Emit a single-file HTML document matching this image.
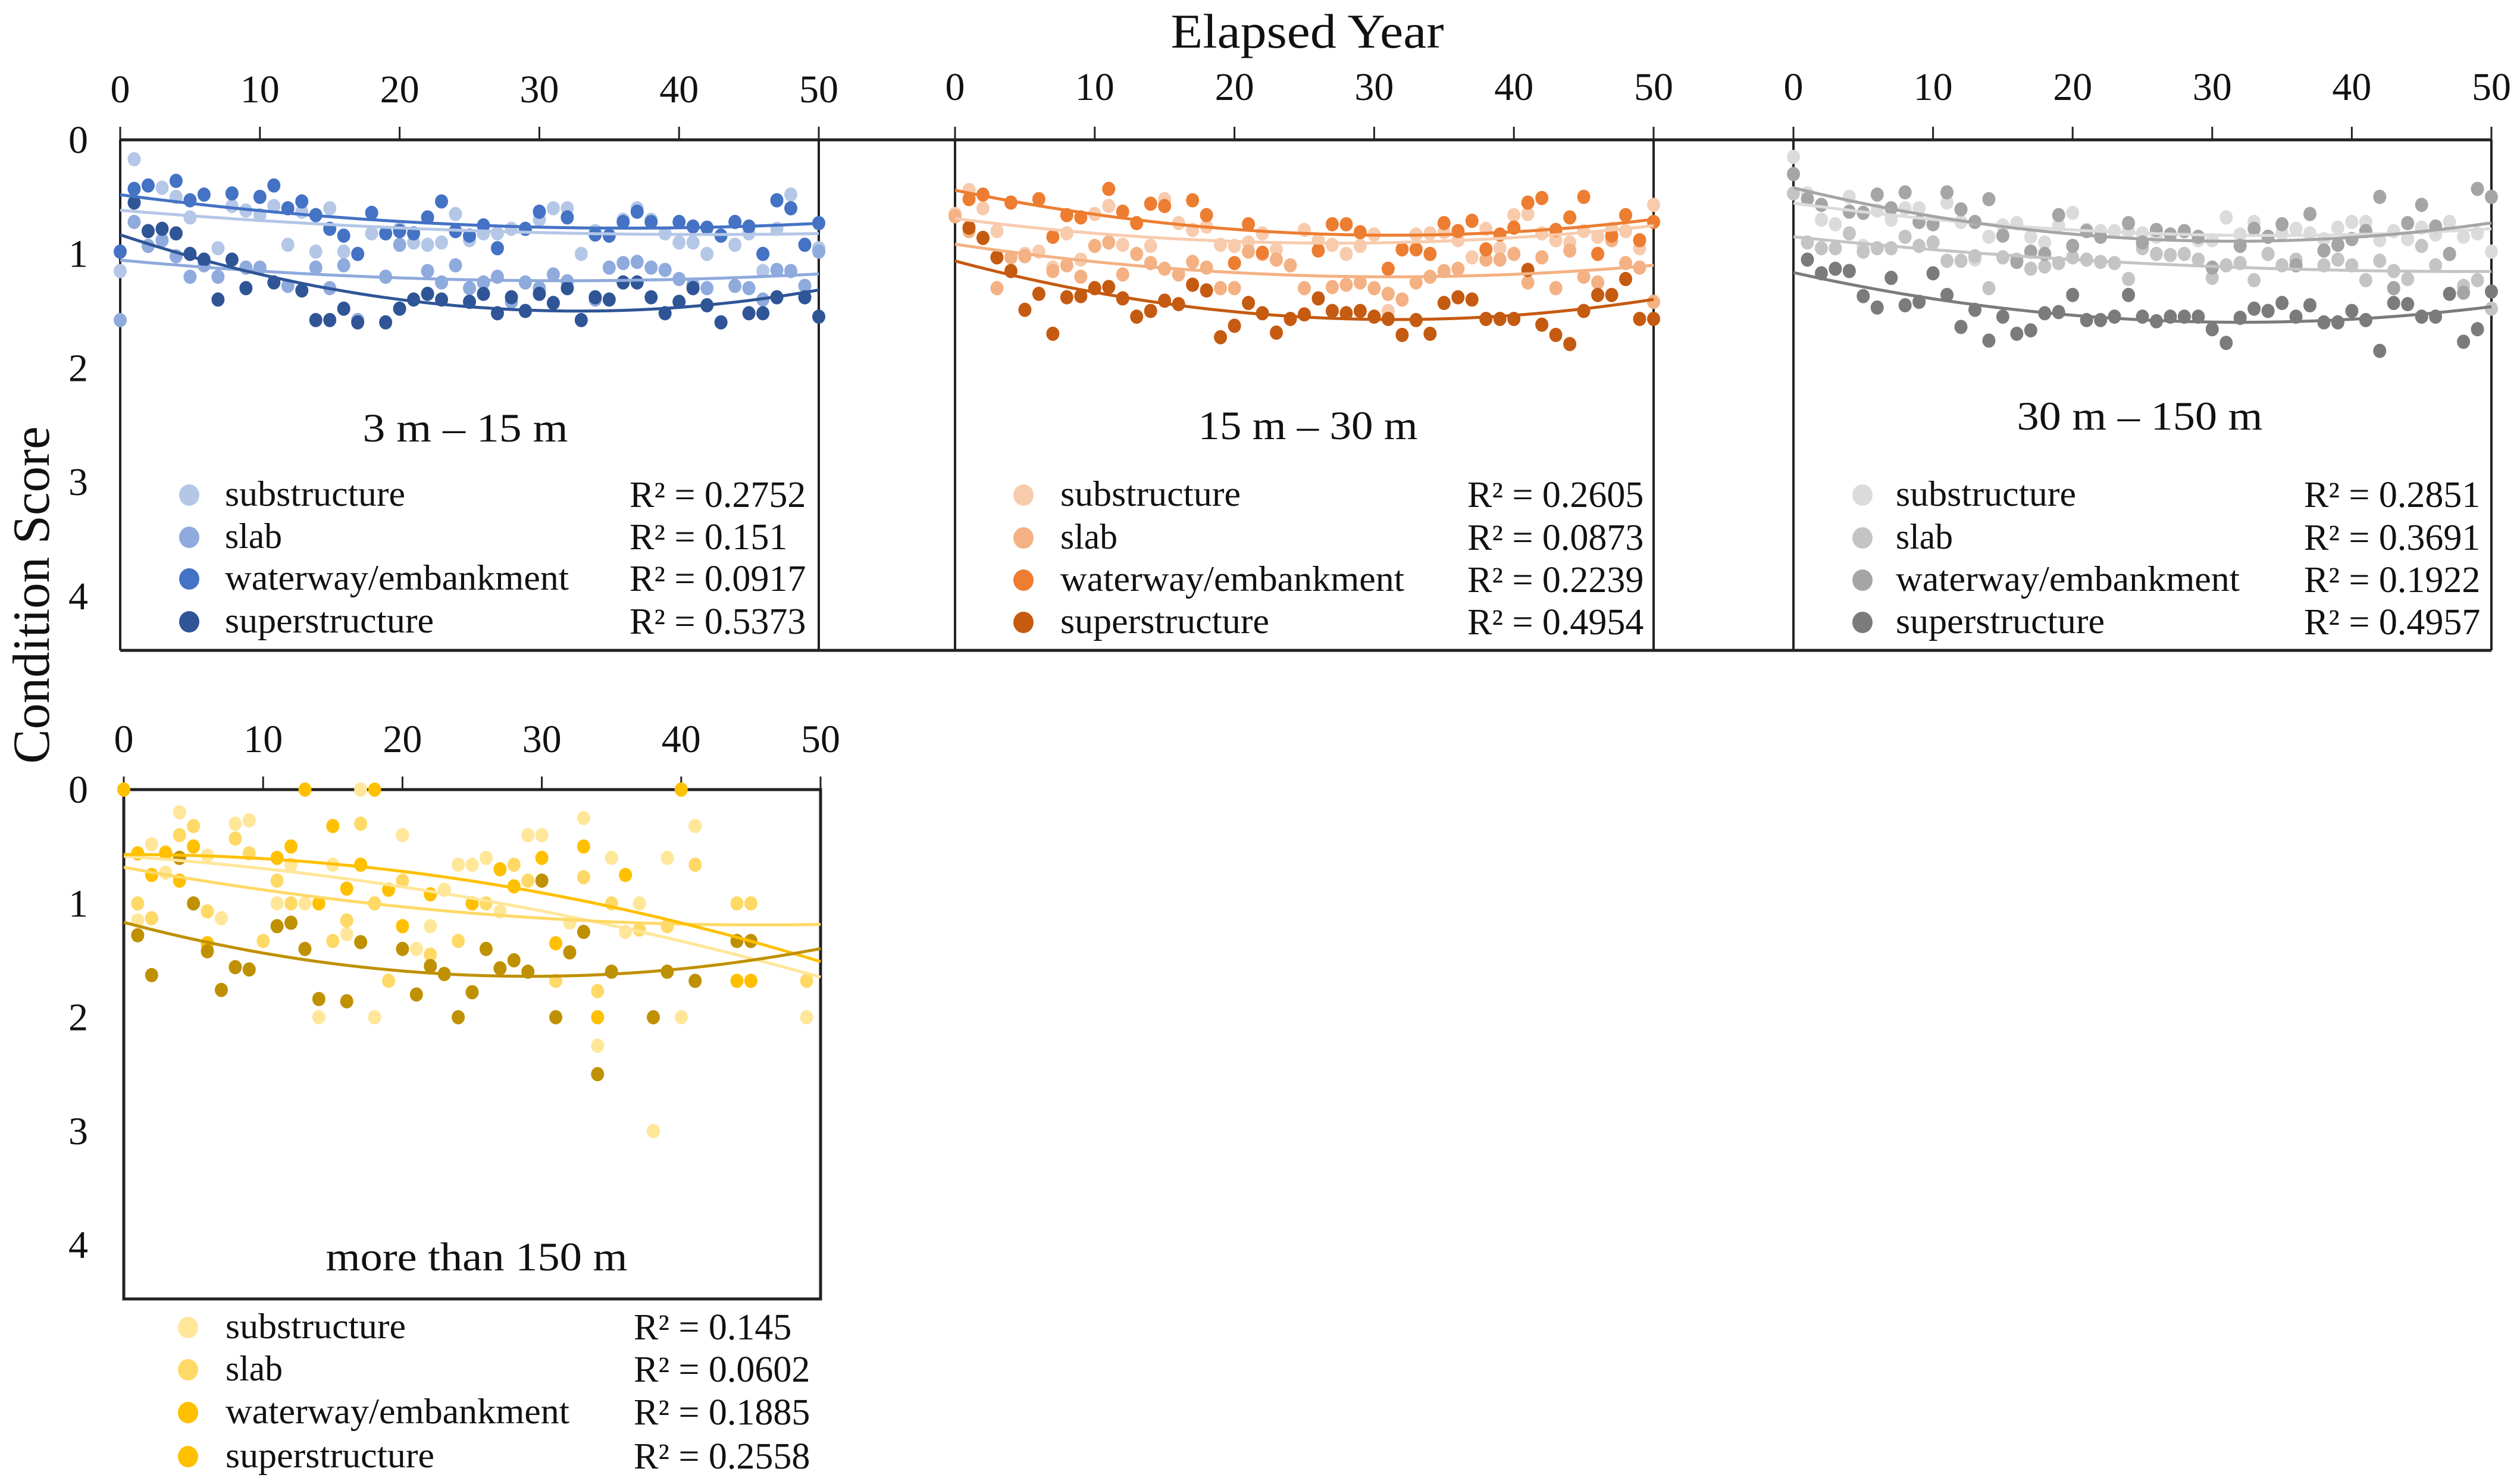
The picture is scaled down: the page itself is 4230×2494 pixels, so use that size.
<!DOCTYPE html>
<html><head><meta charset="utf-8"><title>Condition Score vs Elapsed Year</title>
<style>
html,body{margin:0;padding:0;background:#fff;}
svg{display:block;font-family:"Liberation Serif","DejaVu Serif",serif;}
text{font-family:"Liberation Serif","DejaVu Serif",serif;fill:#111;}
</style></head>
<body>
<svg id="chart" xmlns="http://www.w3.org/2000/svg" width="4230" height="2494" viewBox="0 0 4230 2494" font-family="Liberation Serif, DejaVu Serif, serif">
<text x="2197" y="80" font-size="82" text-anchor="middle" textLength="459" lengthAdjust="spacingAndGlyphs">Elapsed Year</text>
<text transform="translate(82,1000) rotate(-90)" font-size="88" text-anchor="middle" textLength="567" lengthAdjust="spacingAndGlyphs">Condition Score</text>
<g id="frames"></g>
<g id="plots"></g>
</svg>
<script>
// ---- data ----
const seriesNames = ["substructure","slab","waterway/embankment","superstructure"];
const xTicks = [0,10,20,30,40,50];
const yTicks = [0,1,2,3,4];
const panelTitles = ["3 m \u2013 15 m","15 m \u2013 30 m","30 m \u2013 150 m","more than 150 m"];
const r2Labels = [
  ["0.2752","0.151","0.0917","0.5373"],
  ["0.2605","0.0873","0.2239","0.4954"],
  ["0.2851","0.3691","0.1922","0.4957"],
  ["0.145","0.0602","0.1885","0.2558"]
];
// panel 1 (3-15 m)
const p1Sub = [[0,1.15],[1,0.17],[3,0.42],[4,0.5],[5,0.68],[7,0.95],[8,0.58],[9,0.62],[10,0.66],[11,0.58],[12,0.92],[13,0.63],[14,0.98],[15,0.6],[16,0.98],[18,0.82],[20,0.78],[21,0.9],[22,0.92],[23,0.9],[24,0.65],[25,0.88],[26,0.82],[27,0.82],[28,0.78],[30,0.7],[31,0.6],[32,0.6],[33,1.0],[34,0.8],[36,0.7],[37,0.6],[38,0.7],[39,0.82],[40,0.9],[41,0.9],[42,1.0],[44,0.92],[45,0.82],[46,1.15],[47,0.78],[48,0.48],[50,0.95]];
const p1Slab = [[0,1.58],[1,0.72],[2,0.93],[3,0.88],[4,1.02],[5,1.2],[6,1.1],[7,1.2],[9,1.12],[10,1.12],[12,1.28],[14,1.12],[15,1.3],[16,1.1],[17,1.58],[19,1.2],[20,0.92],[22,1.15],[23,1.25],[24,1.1],[25,1.3],[26,1.25],[27,1.2],[28,1.42],[29,1.25],[30,1.3],[31,1.18],[32,1.24],[34,1.4],[35,1.12],[36,1.08],[37,1.07],[38,1.12],[39,1.14],[40,1.22],[41,1.27],[42,1.3],[44,1.28],[45,1.3],[46,1.4],[47,1.14],[48,1.15],[49,1.28],[50,0.98]];
const p1Water = [[0,0.98],[1,0.43],[2,0.4],[4,0.36],[5,0.53],[6,0.48],[8,0.47],[10,0.5],[11,0.4],[12,0.6],[13,0.54],[14,0.66],[15,0.78],[16,0.84],[17,1.0],[18,0.64],[19,0.82],[20,0.8],[21,0.82],[22,0.68],[23,0.54],[24,0.8],[25,0.84],[26,0.75],[27,0.95],[29,0.78],[30,0.63],[32,0.68],[34,0.83],[35,0.84],[36,0.72],[37,0.63],[38,0.72],[40,0.72],[41,0.76],[42,0.77],[43,0.84],[44,0.72],[45,0.76],[46,1.0],[47,0.53],[48,0.6],[49,0.92],[50,0.73]];
const p1Super = [[1,0.55],[2,0.8],[3,0.78],[4,0.82],[5,1.0],[6,1.05],[7,1.4],[8,1.05],[9,1.3],[11,1.25],[13,1.32],[14,1.58],[15,1.58],[16,1.48],[17,1.6],[19,1.6],[20,1.48],[21,1.4],[22,1.35],[23,1.4],[25,1.42],[26,1.35],[27,1.52],[28,1.38],[29,1.5],[30,1.35],[31,1.43],[32,1.3],[33,1.58],[34,1.38],[35,1.4],[36,1.25],[37,1.25],[38,1.38],[39,1.52],[40,1.42],[41,1.3],[42,1.45],[43,1.6],[45,1.52],[46,1.52],[47,1.38],[49,1.38],[50,1.55]];
// panel 2 (15-30 m)
const p2Sub = [[0,0.65],[1,0.44],[2,0.6],[3,0.8],[5,1.0],[6,0.98],[7,1.12],[8,0.82],[9,1.05],[10,0.65],[11,0.58],[12,0.92],[14,0.93],[15,0.52],[16,0.73],[17,0.79],[18,0.76],[19,0.92],[20,0.93],[21,0.9],[22,0.82],[23,0.96],[25,0.79],[26,0.88],[27,0.92],[28,1.0],[29,0.93],[30,0.83],[31,1.5],[33,0.83],[34,0.82],[35,0.81],[36,0.88],[37,1.03],[38,0.78],[39,0.95],[40,0.66],[41,0.65],[42,0.82],[43,0.88],[44,0.9],[45,0.8],[46,0.85],[47,0.78],[48,0.8],[49,0.95],[50,0.57]];
const p2Slab = [[0,0.67],[1,0.8],[3,1.3],[4,1.03],[5,1.02],[7,1.15],[8,1.1],[9,1.2],[10,0.93],[11,0.9],[12,1.18],[13,1.0],[14,1.08],[15,1.13],[16,1.18],[17,1.07],[18,1.12],[19,1.3],[20,1.3],[21,0.98],[22,1.0],[23,1.05],[24,1.1],[25,1.3],[27,1.29],[28,1.27],[29,1.25],[30,1.3],[31,1.35],[32,1.4],[33,1.25],[34,1.2],[35,1.15],[36,1.13],[38,1.05],[39,1.05],[40,1.0],[41,1.25],[42,1.03],[43,1.3],[44,0.97],[45,1.2],[46,1.25],[47,0.88],[48,1.08],[49,1.12],[50,1.42]];
const p2Water = [[1,0.52],[2,0.48],[4,0.55],[6,0.52],[7,0.85],[8,0.66],[9,0.68],[11,0.43],[12,0.63],[13,0.73],[14,0.56],[15,0.58],[17,0.53],[18,0.66],[20,1.08],[21,0.74],[22,0.99],[26,0.97],[27,0.74],[28,0.74],[29,0.81],[31,1.13],[32,0.96],[33,0.96],[34,1.0],[35,0.73],[36,0.8],[37,0.71],[38,0.96],[39,0.83],[40,0.77],[41,0.55],[42,0.51],[43,0.79],[44,0.68],[45,0.5],[46,1.0],[47,0.84],[48,0.66],[49,0.88],[50,0.72]];
const p2Super = [[1,0.77],[2,0.86],[3,1.03],[4,1.15],[5,1.49],[6,1.35],[7,1.7],[8,1.38],[9,1.37],[10,1.3],[11,1.29],[12,1.39],[13,1.55],[14,1.5],[15,1.41],[16,1.44],[17,1.27],[18,1.32],[19,1.73],[20,1.63],[21,1.43],[22,1.52],[23,1.69],[24,1.57],[25,1.53],[26,1.39],[27,1.5],[28,1.52],[29,1.5],[30,1.55],[31,1.57],[32,1.71],[33,1.58],[34,1.7],[35,1.43],[36,1.38],[37,1.4],[38,1.57],[39,1.57],[40,1.57],[41,1.14],[42,1.62],[43,1.71],[44,1.79],[45,1.5],[46,1.36],[47,1.36],[48,1.22],[49,1.57],[50,1.57]];
// panel 3 (30-150 m)
const p3Sub = [[0,0.15],[1,0.47],[2,0.7],[3,0.74],[4,0.5],[5,0.93],[6,0.62],[7,0.7],[8,0.6],[9,0.6],[10,0.9],[11,0.55],[12,0.72],[13,1.05],[14,0.85],[15,0.75],[16,0.73],[17,0.85],[18,0.9],[19,0.75],[20,0.64],[21,0.79],[22,0.8],[23,0.8],[24,0.8],[25,0.82],[26,0.85],[27,0.83],[28,0.8],[29,0.88],[30,0.88],[31,0.68],[32,0.83],[33,0.72],[34,0.85],[35,0.82],[36,0.78],[37,0.82],[38,0.87],[39,0.77],[40,0.72],[41,0.72],[42,0.88],[43,0.8],[44,0.87],[45,0.77],[46,0.83],[47,0.72],[48,0.85],[49,0.82],[50,0.98]];
const p3Slab = [[0,0.47],[1,0.9],[2,0.95],[3,0.95],[4,0.82],[5,0.98],[6,0.95],[7,0.95],[8,0.85],[9,0.93],[10,0.9],[11,1.06],[12,1.06],[13,1.02],[14,1.3],[15,1.03],[16,1.05],[17,1.13],[18,1.11],[19,1.08],[20,1.03],[21,1.05],[22,1.07],[23,1.08],[24,1.22],[25,0.95],[26,1.0],[27,1.01],[28,1.0],[29,1.05],[30,1.21],[31,1.1],[32,1.08],[33,1.23],[34,1.0],[35,1.1],[36,1.05],[38,1.1],[39,1.05],[40,1.1],[41,1.23],[42,1.06],[43,1.15],[44,1.22],[45,0.93],[46,1.1],[47,1.0],[48,1.28],[49,1.23],[50,1.48]];
const p3Water = [[0,0.3],[1,0.52],[2,0.57],[4,0.63],[5,0.64],[6,0.48],[7,0.6],[8,0.46],[9,0.72],[10,0.74],[11,0.46],[12,0.61],[13,0.72],[14,0.52],[15,0.84],[16,1.07],[17,0.98],[18,1.0],[19,0.66],[20,0.93],[21,0.8],[22,0.85],[24,0.73],[25,0.9],[26,0.79],[27,0.83],[28,0.8],[29,0.85],[30,1.12],[32,0.93],[33,0.78],[34,0.85],[35,0.74],[36,1.1],[37,0.65],[38,0.97],[39,0.92],[40,0.87],[41,0.8],[42,0.5],[43,1.3],[44,0.73],[45,0.57],[46,0.76],[47,1.0],[48,1.34],[49,0.43],[50,0.5]];
const p3Super = [[1,1.05],[2,1.17],[3,1.13],[4,1.15],[5,1.37],[6,1.47],[7,1.21],[8,1.45],[9,1.42],[10,1.17],[11,1.36],[12,1.64],[13,1.49],[14,1.76],[15,1.55],[16,1.7],[17,1.67],[18,1.52],[19,1.51],[20,1.36],[21,1.58],[22,1.58],[23,1.55],[24,1.36],[25,1.55],[26,1.59],[27,1.55],[28,1.55],[29,1.55],[30,1.66],[31,1.78],[32,1.56],[33,1.48],[34,1.5],[35,1.43],[36,1.55],[37,1.45],[38,1.6],[39,1.6],[40,1.5],[41,1.58],[42,1.85],[43,1.43],[44,1.44],[45,1.55],[46,1.55],[47,1.35],[48,1.77],[49,1.66],[50,1.33]];
// panel 4 (>150 m)
const p4Sub = [[0,0],[1,1.15],[2,0.48],[3,0.73],[4,0.2],[5,0.32],[6,0.58],[7,1.13],[8,0.3],[9,0.27],[11,1.0],[12,0.66],[13,1.0],[14,2.0],[15,0.66],[16,1.27],[17,0.0],[18,2.0],[20,0.4],[21,1.4],[22,1.2],[23,0.88],[24,0.66],[25,0.66],[26,0.6],[27,1.07],[29,0.4],[30,0.4],[32,1.17],[33,0.25],[34,2.25],[35,0.6],[36,1.25],[37,1.0],[38,3.0],[39,0.6],[40,2.0],[41,0.32],[49,2.0]];
const p4Slab = [[1,1.0],[2,1.13],[3,0.55],[4,0.4],[5,0.32],[6,1.07],[8,0.43],[9,0.56],[10,1.33],[11,0.8],[12,1.0],[15,1.33],[16,1.15],[17,0.3],[18,1.0],[19,1.68],[20,0.8],[22,1.45],[24,1.33],[26,1.0],[28,0.66],[29,0.8],[31,1.68],[33,0.77],[34,1.77],[35,1.0],[37,1.23],[39,1.2],[41,0.66],[44,1.0],[45,1.0],[49,1.68]];
const p4Water = [[0,0],[1,0.56],[2,0.75],[3,0.56],[4,0.8],[5,0.5],[6,1.35],[11,0.6],[12,0.5],[13,0],[14,1.0],[15,0.32],[16,0.87],[17,0.66],[18,0],[19,0.88],[20,1.2],[22,0.92],[25,1.0],[27,0.7],[28,0.85],[30,0.6],[31,1.35],[33,0.5],[34,2.0],[36,0.75],[40,0],[44,1.68],[45,1.68]];
const p4Super = [[1,1.28],[2,1.63],[4,0.6],[5,1.0],[6,1.42],[7,1.76],[8,1.56],[9,1.58],[11,1.2],[12,1.17],[13,1.4],[14,1.84],[16,1.86],[17,1.34],[20,1.4],[21,1.8],[22,1.55],[23,1.62],[24,2.0],[25,1.78],[26,1.4],[27,1.57],[28,1.5],[29,1.6],[30,0.8],[31,2.0],[32,1.43],[33,1.25],[34,2.5],[35,1.6],[38,2.0],[39,1.6],[41,1.68],[44,1.33],[45,1.33]];

// ---- layout / styles ----
const panels = [
  {id:"p1", series:[p1Sub,p1Slab,p1Water,p1Super], x0:202, x1:1376, y0:235, y1:1093,
   colors:["#b4c7e7","#8faadc","#4472c4","#2f5597"], legColors:["#b4c7e7","#8faadc","#4472c4","#2f5597"],
   tickY:172, yLabels:true, titleX:782, titleY:742, legM:318, legT:378, legR:1058, legY:[832,903,973,1045]},
  {id:"p2", series:[p2Sub,p2Slab,p2Water,p2Super], x0:1605, x1:2779, y0:235, y1:1093,
   colors:["#f8cbad","#f4b183","#ed7d31","#c55a11"], legColors:["#f8cbad","#f4b183","#ed7d31","#c55a11"],
   tickY:168, yLabels:false, titleX:2198, titleY:738, legM:1720, legT:1782, legR:2466, legY:[832,904,975,1046]},
  {id:"p3", series:[p3Sub,p3Slab,p3Water,p3Super], x0:3014, x1:4187, y0:235, y1:1093,
   colors:["#dbdbdb","#c4c4c4","#a5a5a5","#7b7b7b"], legColors:["#dbdbdb","#c4c4c4","#a5a5a5","#7b7b7b"],
   tickY:168, yLabels:false, titleX:3596, titleY:722, legM:3130, legT:3186, legR:3872, legY:[832,904,975,1046]},
  {id:"p4", series:[p4Sub,p4Slab,p4Water,p4Super], x0:208, x1:1379, y0:1327, y1:2183,
   colors:["#ffe699","#ffd966","#ffc000","#bf9000"], legColors:["#ffe699","#ffd966","#ffc000","#ffc000"],
   tickY:1264, yLabels:true, titleX:801, titleY:2135, legM:316, legT:379, legR:1065, legY:[2231,2302,2374,2448]}
];
const titleLens=[345,369,413,507];
const legLens=[303,96,578,351];
const NS="http://www.w3.org/2000/svg";
const FF="Liberation Serif, DejaVu Serif, serif";
function mk(tag, attrs, parent){const e=document.createElementNS(NS,tag);for(const k in attrs)e.setAttribute(k,attrs[k]);parent.appendChild(e);return e;}
function fitQuad(pts){
  let S=[[0,0,0],[0,0,0],[0,0,0]],T=[0,0,0];
  pts.forEach(([x,y])=>{const v=[1,x,x*x];for(let i=0;i<3;i++){T[i]+=v[i]*y;for(let j=0;j<3;j++)S[i][j]+=v[i]*v[j];}});
  const A=S.map((r,i)=>r.concat([T[i]]));
  for(let i=0;i<3;i++){let p=i;for(let r=i+1;r<3;r++)if(Math.abs(A[r][i])>Math.abs(A[p][i]))p=r;[A[i],A[p]]=[A[p],A[i]];
    for(let r=0;r<3;r++){if(r===i)continue;const f=A[r][i]/A[i][i];for(let c=i;c<4;c++)A[r][c]-=f*A[i][c];}}
  return [A[0][3]/A[0][0],A[1][3]/A[1][1],A[2][3]/A[2][2]];
}
const frames=document.getElementById('frames');
const plots=document.getElementById('plots');
const topLine=mk('line',{x1:202,x2:4187,y1:235,y2:235,stroke:'#222','stroke-width':5},frames);


const botLine=mk('line',{x1:202,x2:4187,y1:1093,y2:1093,stroke:'#222','stroke-width':5},frames);



panels.forEach((P,pi)=>{
  const unit=(P.y1-P.y0)/4.475;
  const sx=v=>P.x0+(P.x1-P.x0)*v/50;
  const sy=v=>P.y0+unit*v;
  const g=mk('g',{'font-family':FF},plots);
  
  
  if(pi===3){
    const r=mk('rect',{x:P.x0,y:P.y0,width:P.x1-P.x0,height:P.y1-P.y0,fill:'none',stroke:'#222','stroke-width':5},g);
    
    
  } else {
    [P.x0,P.x1].forEach(xx=>{
      const l=mk('line',{x1:xx,x2:xx,y1:P.y0,y2:P.y1,stroke:'#222','stroke-width':4},g);
      
      
    });
  }
  xTicks.forEach(t=>{
    const l=mk('line',{x1:sx(t),x2:sx(t),y1:P.y0-22,y2:P.y0,stroke:'#222','stroke-width':3},g);
    
    
    const tx=mk('text',{x:sx(t),y:P.tickY,'font-size':66,'text-anchor':'middle','font-family':FF},g);
    tx.textContent=t;
    
    
  });
  if(P.yLabels){
    yTicks.forEach(t=>{
      const tx=mk('text',{x:148,y:sy(t)+22,'font-size':66,'text-anchor':'end','font-family':FF},g);
      tx.textContent=t;
      
      
    });
  }
  P.series.forEach((pts,si)=>{
    const sg=mk('g',{},g);
    
    
    pts.forEach(([x,y])=>{
      const c=mk('ellipse',{cx:sx(x),cy:sy(y),rx:11,ry:12,fill:P.colors[si]},sg);
      
      
    });
  });
  P.series.forEach((pts,si)=>{
    const [a,b,c]=fitQuad(pts);
    let d='';
    for(let x=0;x<=50;x+=1){const y=a+b*x+c*x*x;d+=(x?'L':'M')+sx(x).toFixed(1)+','+sy(y).toFixed(1);}
    const p=mk('path',{d:d,fill:'none',stroke:P.colors[si],'stroke-width':5},g);
    
    
  });
  const tt=mk('text',{x:P.titleX,y:P.titleY,'font-size':68,'text-anchor':'middle',textLength:titleLens[pi],lengthAdjust:'spacingAndGlyphs','font-family':FF},g);
  tt.textContent=panelTitles[pi];
  
  
  seriesNames.forEach((nm,si)=>{
    const ly=P.legY[si];
    const m=mk('ellipse',{cx:P.legM,cy:ly,rx:17,ry:18,fill:P.legColors[si]},g);
    
    
    const t=mk('text',{x:P.legT,y:ly+18,'font-size':60,textLength:legLens[si],lengthAdjust:'spacingAndGlyphs','font-family':FF},g);
    t.textContent=nm;
    
    
    const r=mk('text',{x:P.legR,y:ly+20,'font-size':62,'font-family':FF},g);
    r.textContent='R\u00b2 = '+r2Labels[pi][si];
    
    
  });
});
</script>
</body></html>
